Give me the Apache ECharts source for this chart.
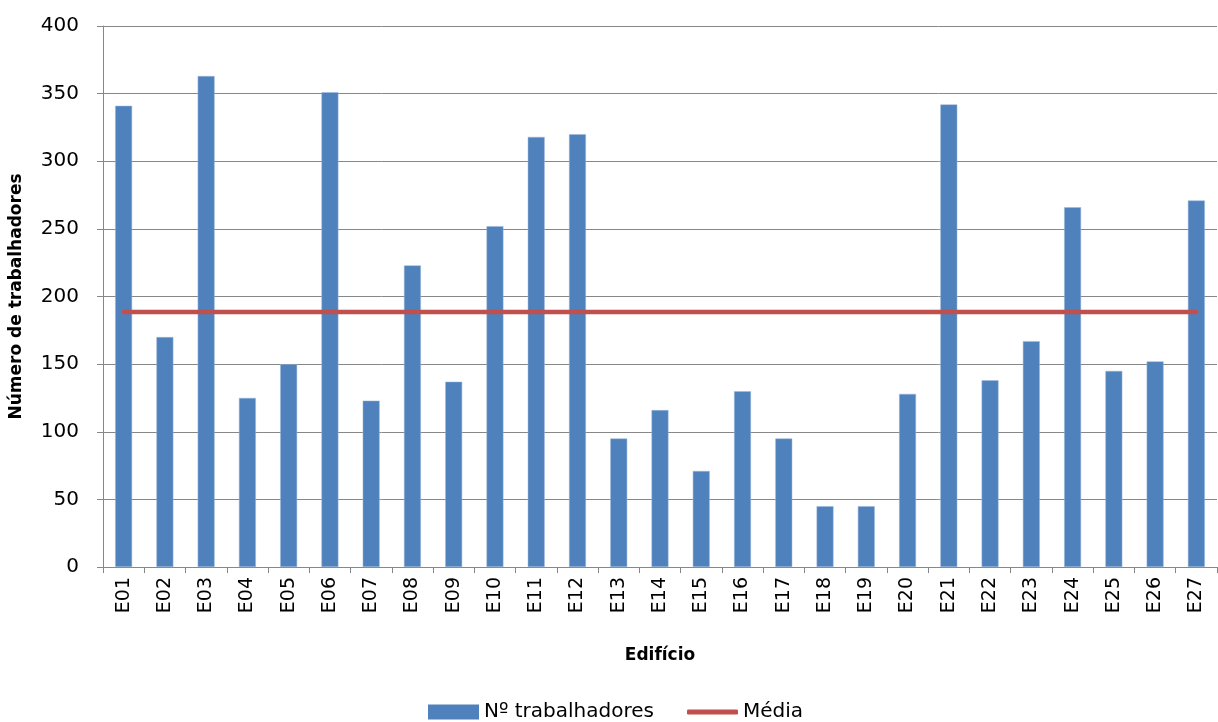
<!DOCTYPE html>
<html>
<head>
<meta charset="utf-8">
<script src="https://cdn.jsdelivr.net/npm/echarts@6/dist/echarts.min.js"></script>
<style>
  html, body { margin: 0; padding: 0; background: #fff; }
  #chart { width: 1218px; height: 722px; }
</style>
</head>
<body>
<div id="chart"></div>
<script>
// Buildings
const edificios = ['E01','E02','E03','E04','E05','E06','E07','E08','E09','E10','E11','E12','E13','E14',
  'E15','E16','E17','E18','E19','E20','E21','E22','E23','E24','E25','E26','E27'];
// Workers per building
const trabalhadores = [341,170,363,125,150,351,123,223,137,252,318,320,95,116,
  71,130,95,45,45,128,342,138,167,266,145,152,271];
// Average across buildings (flat reference line)
const media = [188.6,188.6,188.6,188.6,188.6,188.6,188.6,188.6,188.6,188.6,188.6,188.6,188.6,188.6,
  188.6,188.6,188.6,188.6,188.6,188.6,188.6,188.6,188.6,188.6,188.6,188.6,188.6];
// Value axis
const yMin = 0, yMax = 400, yStep = 50;

const FONT = '"DejaVu Sans", sans-serif';
const GRID_COLOR = '#878787';
const BAR_COLOR = '#4F81BD';
const LINE_COLOR = '#C0504D';

const legendText = { fontFamily: FONT, fontSize: 20, color: '#000', lineHeight: 20 };

const chart = echarts.init(document.getElementById('chart'), null, { renderer: 'canvas' });
chart.setOption({
  animation: false,
  backgroundColor: '#ffffff',
  textStyle: { fontFamily: FONT, color: '#000' },
  grid: { left: 102, right: 1, top: 26, bottom: 155, containLabel: false },
  legend: [
    {
      left: 428,
      top: 702,
      padding: 0,
      itemWidth: 51,
      itemHeight: 15,
      itemGap: 4,
      textStyle: legendText,
      itemStyle: { borderWidth: 0 },
      data: [{ name: 'Nº trabalhadores', icon: 'rect' }]
    },
    {
      left: 687,
      top: 702,
      padding: 0,
      itemWidth: 51,
      itemHeight: 5,
      textStyle: legendText,
      itemStyle: { color: LINE_COLOR, borderWidth: 0 },
      data: [{ name: 'Média', icon: 'roundRect' }]
    }
  ],
  xAxis: {
    type: 'category',
    data: edificios,
    name: 'Edifício',
    nameLocation: 'middle',
    nameGap: 80,
    nameTextStyle: { fontFamily: FONT, fontSize: 17, fontWeight: 'bold', color: '#000' },
    axisLine: { lineStyle: { color: GRID_COLOR, width: 1 } },
    axisTick: { show: true, length: 6, alignWithLabel: false, lineStyle: { color: GRID_COLOR } },
    axisLabel: { rotate: 90, margin: 10, fontFamily: FONT, fontSize: 19, color: '#000', interval: 0 },
    splitLine: { show: false }
  },
  yAxis: {
    type: 'value',
    min: yMin,
    max: yMax,
    interval: yStep,
    name: 'Número de trabalhadores',
    nameLocation: 'middle',
    nameGap: 78,
    nameTextStyle: { fontFamily: FONT, fontSize: 17, fontWeight: 'bold', color: '#000' },
    axisLine: { show: true, lineStyle: { color: GRID_COLOR, width: 1 } },
    axisTick: { show: true, length: 6, lineStyle: { color: GRID_COLOR } },
    axisLabel: { margin: 24, fontFamily: FONT, fontSize: 20, color: '#000' },
    splitLine: { show: true, lineStyle: { color: GRID_COLOR, width: 1 } }
  },
  series: [
    {
      name: 'Nº trabalhadores',
      type: 'bar',
      data: trabalhadores,
      barWidth: '41%',
      itemStyle: { color: BAR_COLOR, borderColor: '#9DB8DA', borderWidth: 0.5 }
    },
    {
      name: 'Média',
      type: 'line',
      data: media,
      symbol: 'none',
      showSymbol: false,
      lineStyle: { color: LINE_COLOR, width: 4.5, cap: 'round' },
      itemStyle: { color: LINE_COLOR },
      z: 3
    }
  ]
});
</script>
</body>
</html>
